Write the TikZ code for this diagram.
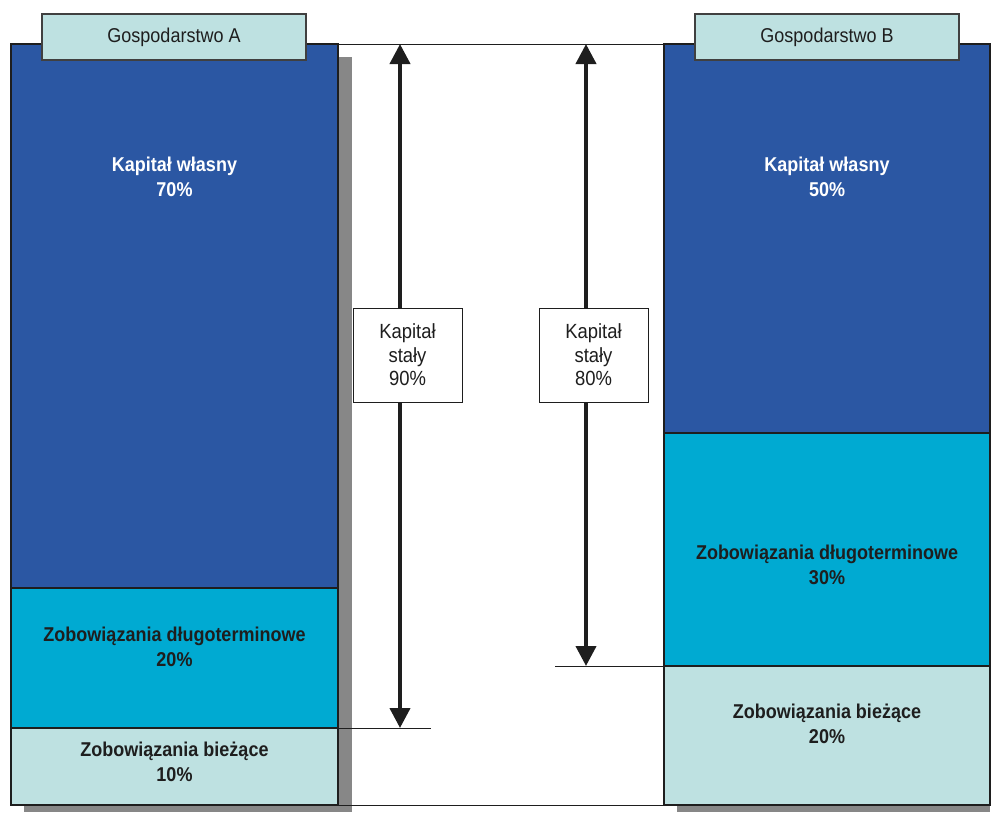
\documentclass[tikz,border=0pt]{standalone}
\usepackage{fontspec}
\newfontfamily\narrow{Liberation Sans}[FakeStretch=0.9]
\usetikzlibrary{arrows.meta}
\definecolor{equity}{HTML}{2B57A3}
\definecolor{longterm}{HTML}{00AAD2}
\definecolor{current}{HTML}{BEE1E1}
\definecolor{shadowgray}{HTML}{878787}
\definecolor{ink}{HTML}{1E1E1E}
\begin{document}
\begin{tikzpicture}[x=1pt,y=-1pt,
  seg/.style={draw=ink, line width=1.3pt, anchor=north west, inner sep=0pt, outer sep=0pt},
  tab/.style={draw=ink!85, line width=1.3pt, fill=current, inner sep=0pt,
    minimum width=264pt, minimum height=46pt,
    font=\narrow\fontsize{20}{24}\selectfont, text=ink},
  lbl/.style={font=\narrow\bfseries\fontsize{20}{25}\selectfont, align=center, text=ink},
  wlbl/.style={lbl, text=white},
  capbox/.style={draw=ink, line width=1pt, fill=white, inner sep=0pt,
    minimum width=109pt, minimum height=94pt, align=center,
    font=\narrow\fontsize{20.5}{23.5}\selectfont, text=ink},
  dimline/.style={draw=ink, line width=1pt},
  bigarrow/.style={draw=ink, line width=4pt, -{Triangle[width=20pt,length=20pt]}}
]
\useasboundingbox (0,0) rectangle (992,812);

% drop shadows behind the two bars
\fill[shadowgray] (24,57) rectangle (352,812);
\fill[shadowgray] (677,57) rectangle (990,812);

% outer frame joining the bars
\draw[dimline] (11,44) rectangle (990,805.5);

% bar of farm A
\node[seg, fill=equity,   minimum width=327pt, minimum height=544pt] (Aeq)  at (11,44) {};
\node[seg, fill=longterm, minimum width=327pt, minimum height=140pt] (Alt)  at (11,588) {};
\node[seg, fill=current,  minimum width=327pt, minimum height=77pt]  (Acur) at (11,728) {};

% bar of farm B
\node[seg, fill=equity,   minimum width=326pt, minimum height=389pt] (Beq)  at (664,44) {};
\node[seg, fill=longterm, minimum width=326pt, minimum height=233pt] (Blt)  at (664,433) {};
\node[seg, fill=current,  minimum width=326pt, minimum height=139pt] (Bcur) at (664,666) {};

% segment labels
\node[wlbl] (AeqT)  at (174.5,177) {Kapitał własny\\70\%};
\node[lbl]  (AltT)  at (174.5,647) {Zobowiązania długoterminowe\\20\%};
\node[lbl]  (AcurT) at (174.5,762) {Zobowiązania bieżące\\10\%};
\node[wlbl] (BeqT)  at (827,177) {Kapitał własny\\50\%};
\node[lbl]  (BltT)  at (827,565) {Zobowiązania długoterminowe\\30\%};
\node[lbl]  (BcurT) at (827,724) {Zobowiązania bieżące\\20\%};

% header tabs
\node[tab] (tabA) at (174,37) {Gospodarstwo A};
\node[tab] (tabB) at (827,37) {Gospodarstwo B};

% reference lines for the bottom of fixed capital
\coordinate (topA) at (400,44);
\coordinate (botA) at (400,728);
\coordinate (topB) at (586,44);
\coordinate (botB) at (586,666);
\draw[dimline] (Acur.north east) -- (431,728);
\draw[dimline] (555,666) -- (Bcur.north west);

% fixed capital boxes
\node[capbox] (capA) at (407.5,355) {Kapitał\\stały\\90\%};
\node[capbox] (capB) at (593.5,355) {Kapitał\\stały\\80\%};

% span arrows
\draw[bigarrow] (capA.north -| topA) -- (topA);
\draw[bigarrow] (capA.south -| botA) -- (botA);
\draw[bigarrow] (capB.north -| topB) -- (topB);
\draw[bigarrow] (capB.south -| botB) -- (botB);
\end{tikzpicture}
\end{document}
